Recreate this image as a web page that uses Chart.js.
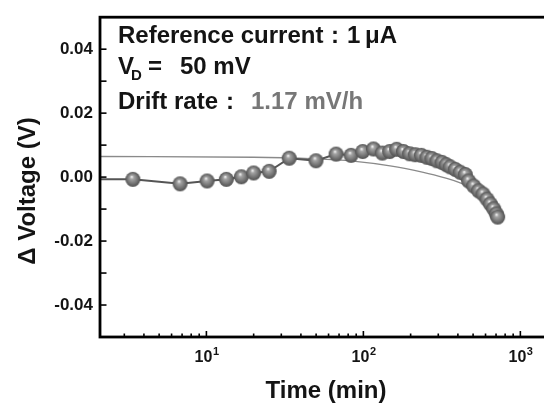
<!DOCTYPE html>
<html>
<head>
<meta charset="utf-8">
<script src="https://cdn.jsdelivr.net/npm/chart.js@4/dist/chart.umd.min.js"></script>
<style>
    html, body { margin: 0; padding: 0; overflow: hidden; background: #fff; }
    canvas { display: block; }
</style>
</head>
<body>
<canvas id="chart" width="560" height="406"></canvas>
<script>
// values (time in min, delta V in volts)
const timeMin = [1, 3.4, 6.8, 10.1, 13.4, 16.7, 20, 25.1, 33.7, 49.9,
    67, 83.4, 99, 116, 132, 147, 163, 180, 197, 214,
    234, 254, 273, 294, 317, 337, 357, 385, 414, 446,
    468, 504, 542, 578, 613, 644, 676, 703, 717];
const deltaV = [-0.0006, -0.0007, -0.0021, -0.0012, -0.0007, 0.0001, 0.0013, 0.0018, 0.0059, 0.0051,
    0.0072, 0.0068, 0.0080, 0.0088, 0.0075, 0.0080, 0.0087, 0.0080, 0.0073, 0.0070,
    0.0068, 0.0062, 0.0058, 0.0051, 0.0046, 0.0039, 0.0032, 0.0024, 0.0015, 0.0008,
    -0.0012, -0.0028, -0.0043, -0.0053, -0.0069, -0.0084, -0.0099, -0.0115, -0.0125];

// drift fit line, also
const fitTime = [1, 20, 50, 86, 148, 241, 340, 414, 556, 710];
const fitV = [0.0065, 0.0062, 0.0057, 0.0050, 0.0035, 0.0015, -0.0004, -0.0018, -0.0046, -0.0078];

const xTickValues = [10, 100, 1000];
const xTickExponents = ['1', '2', '3'];
const yTickValues = [-0.04, -0.02, 0, 0.02, 0.04];

const FONT = '"Liberation Sans", Arial, Helvetica, sans-serif';

function makeBall(r) {
    const c = document.createElement('canvas');
    const s = r * 2 + 2;
    c.width = c.height = s;
    const g = c.getContext('2d');
    const cx = s / 2;
    const grad = g.createRadialGradient(cx - 1.2, cx - 2.6, 0.4, cx, cx, r);
    grad.addColorStop(0, '#eeeeee');
    grad.addColorStop(0.22, '#a4a4a4');
    grad.addColorStop(0.65, '#767676');
    grad.addColorStop(1, '#505050');
    g.fillStyle = grad;
    g.beginPath();
    g.arc(cx, cx, r, 0, Math.PI * 2);
    g.fill();
    return c;
}

const ball = makeBall(7.5);

// frame, inward ticks, x labels with exponents and the text block
const decorations = {
    id: 'decorations',
    afterDraw(chart) {
        const { ctx, chartArea: a, scales: { x, y } } = chart;
        ctx.save();
        ctx.strokeStyle = '#000';
        ctx.lineWidth = 1.6;

        for (let i = -4; i <= 4; i++) {
            const py = y.getPixelForValue(i / 100);
            ctx.beginPath();
            ctx.moveTo(a.left, py);
            ctx.lineTo(a.left + 6.5, py);
            ctx.stroke();
        }

        for (let d = 1; d <= 1000; d *= 10) {
            for (let k = 1; k < 10; k++) {
                const v = d * k;
                if (v < x.min || v > x.max) continue;
                const px = x.getPixelForValue(v);
                const len = k === 1 ? 6 : 3.5;
                ctx.beginPath();
                ctx.moveTo(px, a.bottom);
                ctx.lineTo(px, a.bottom - len);
                ctx.stroke();
            }
        }

        ctx.lineWidth = 2.8;
        ctx.strokeRect(a.left, a.top, a.right - a.left, a.bottom - a.top);

        ctx.fillStyle = '#141414';
        ctx.textBaseline = 'alphabetic';

        // x tick labels: 10 with a raised exponent
        xTickValues.forEach((v, i) => {
            const px = x.getPixelForValue(v);
            ctx.font = 'bold 16px ' + FONT;
            ctx.textAlign = 'right';
            ctx.fillText('10', px + 6, 362);
            ctx.font = 'bold 11px ' + FONT;
            ctx.textAlign = 'left';
            ctx.fillText(xTickExponents[i], px + 6.5, 355);
        });

        // text in the plot
        ctx.textAlign = 'left';
        ctx.font = 'bold 24px ' + FONT;
        ctx.fillText('Reference current', 118, 43);
        ctx.fillText(':', 331, 43);
        ctx.fillText('1', 347, 43);
        ctx.fillText('\u03bcA', 365, 43);

        ctx.fillText('V', 118, 74);
        ctx.font = 'bold 15px ' + FONT;
        ctx.fillText('D', 131, 80);
        ctx.font = 'bold 24px ' + FONT;
        ctx.fillText('=', 148, 74);
        ctx.fillText('50 mV', 180, 74);

        ctx.fillText('Drift rate', 118, 109);
        ctx.fillText(':', 226, 109);
        ctx.fillStyle = '#777777';
        ctx.fillText('1.17 mV/h', 251, 109);

        // axis titles
        ctx.fillStyle = '#141414';
        ctx.textAlign = 'center';
        ctx.fillText('Time (min)', 326, 398);

        ctx.translate(35, 191);
        ctx.rotate(-Math.PI / 2);
        ctx.fillText('\u0394 Voltage (V)', 0, 0);
        ctx.restore();
    },
};

new Chart(document.getElementById('chart'), {
    type: 'line',
    data: {
        datasets: [
            {
                label: 'data',
                data: timeMin.map((t, i) => ({ x: t, y: deltaV[i] })),
                borderColor: '#555555',
                borderWidth: 2,
                pointStyle: ball,
                pointRadius: 7.5,
                tension: 0,
                order: 1,
            },
            {
                label: 'fit',
                data: fitTime.map((t, i) => ({ x: t, y: fitV[i] })),
                borderColor: '#8a8a8a',
                borderWidth: 1.3,
                pointRadius: 0,
                tension: 0.3,
                order: 2,
            },
        ],
    },
    options: {
        responsive: false,
        animation: false,
        devicePixelRatio: 1,
        layout: {
            padding: { top: 13, right: 12, left: 0, bottom: 0 },
        },
        plugins: {
            legend: { display: false },
            tooltip: { enabled: false },
        },
        scales: {
            x: {
                type: 'logarithmic',
                min: 2.1,
                max: 1500,
                grid: { display: false, drawTicks: false },
                border: { display: false },
                afterBuildTicks: (scale) => {
                    scale.ticks = xTickValues.map((v) => ({ value: v }));
                },
                afterFit: (scale) => { scale.height = 69; },
                ticks: { display: false },
            },
            y: {
                min: -0.05,
                max: 0.05,
                grid: { display: false, drawTicks: false },
                border: { display: false },
                afterBuildTicks: (scale) => {
                    scale.ticks = yTickValues.map((v) => ({ value: v }));
                },
                afterFit: (scale) => { scale.width = 100; },
                ticks: {
                    padding: 7,
                    color: '#141414',
                    font: { family: FONT, size: 17, weight: 'bold' },
                    callback: (value) => value.toFixed(2),
                },
            },
        },
    },
    plugins: [decorations],
});
</script>
</body>
</html>
